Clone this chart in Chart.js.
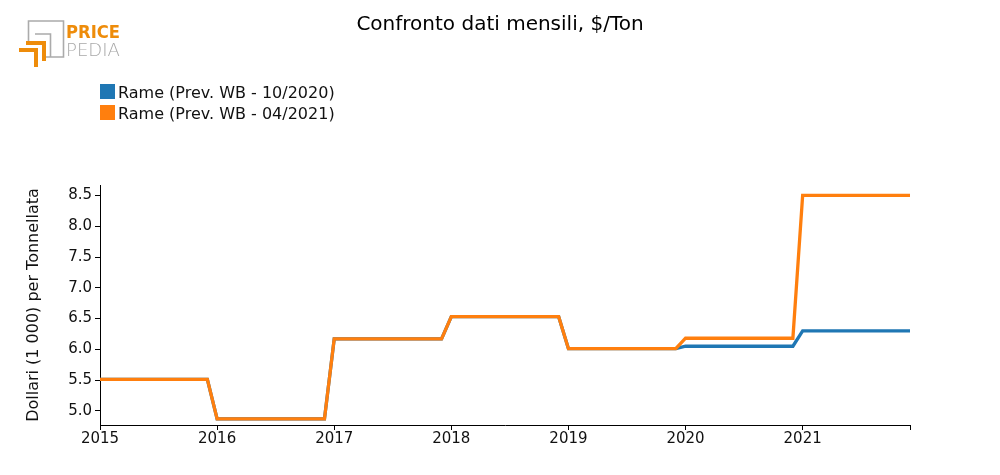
<!DOCTYPE html>
<html>
<head>
<meta charset="utf-8">
<script src="https://cdn.jsdelivr.net/npm/chart.js@4.4.0/dist/chart.umd.min.js"></script>
<style>
  body { margin: 0; background: #fff; font-family: "DejaVu Sans", sans-serif; }
  #wrap { position: relative; width: 1000px; height: 475px; }
  #chart { position: absolute; left: 0; top: 0; }
  .title { position: absolute; left: 0; width: 1000px; top: 11px; text-align: center; font-size: 20px; color: #000; }
  .legend { position: absolute; left: 100px; top: 84px; font-size: 16px; color: #111; }
  .legend div { height: 21px; line-height: 18px; }
  .legend span { display: inline-block; width: 15px; height: 15px; vertical-align: -1px; margin-right: 3px; }
  .logo { position: absolute; left: 0; top: 0; }
</style>
</head>
<body>
<div id="wrap">
  <canvas id="chart" width="1000" height="475"></canvas>
  <div class="title">Confronto dati mensili, $/Ton</div>
  <svg class="logo" width="130" height="70" viewBox="0 0 130 70">
    <path d="M28.5 42 V21 H63.5 V57 H46" fill="none" stroke="#ababab" stroke-width="1.6"/>
    <path d="M35 34 H50.5 V57" fill="none" stroke="#ababab" stroke-width="1.6"/>
    <path d="M26 43 H44 V61" fill="none" stroke="#ee8c0a" stroke-width="4"/>
    <path d="M19 50 H36 V67" fill="none" stroke="#ee8c0a" stroke-width="4"/>
    <text x="66" y="38" font-family="DejaVu Sans" font-weight="bold" font-size="18" fill="#ee8c0a" textLength="54" lengthAdjust="spacingAndGlyphs">PRICE</text>
    <text x="66" y="55.5" font-family="DejaVu Sans" font-weight="200" font-size="18" fill="#a8a8a8" textLength="54" lengthAdjust="spacingAndGlyphs">PEDIA</text>
  </svg>
  <div class="legend">
    <div><span style="background:#1f77b4"></span>Rame (Prev. WB - 10/2020)</div>
    <div><span style="background:#ff7f0e"></span>Rame (Prev. WB - 04/2021)</div>
  </div>
</div>
<script>
const years = ['2015', '2016', '2017', '2018', '2019', '2020', '2021'];
// yearly levels (thousand $/ton), each repeated for 12 months
const rameOct2020 = [5.51, 4.87, 6.17, 6.53, 6.01, 6.05, 6.30];
const rameApr2021 = [5.51, 4.87, 6.17, 6.53, 6.01, 6.18, 8.50];
const yTicks = [5.0, 5.5, 6.0, 6.5, 7.0, 7.5, 8.0, 8.5];

const months = [];
const serieOct = [];
const serieApr = [];
years.forEach((y, i) => {
    for (let m = 1; m <= 12; m++) {
        months.push(y + '-' + String(m).padStart(2, '0'));
        serieOct.push(rameOct2020[i]);
        serieApr.push(rameApr2021[i]);
    }
});

const tickFont = { family: 'DejaVu Sans', size: 15 };

new Chart(document.getElementById('chart').getContext('2d'), {
    type: 'line',
    data: {
        labels: months,
        datasets: [
            // order: higher number is drawn first, so orange ends up on top
            { label: 'Rame (Prev. WB - 10/2020)', data: serieOct, borderColor: '#1f77b4', borderWidth: 3.3, pointRadius: 0, tension: 0, order: 2 },
            { label: 'Rame (Prev. WB - 04/2021)', data: serieApr, borderColor: '#ff7f0e', borderWidth: 3.3, pointRadius: 0, tension: 0, order: 1 }
        ]
    },
    options: {
        responsive: false,
        animation: false,
        layout: { padding: { top: 185, right: 90, bottom: 0, left: 24 } },
        plugins: { legend: { display: false }, title: { display: false }, tooltip: { enabled: false } },
        scales: {
            x: {
                type: 'category',
                offset: false,
                afterFit: scale => { scale.height = 50; },
                border: { display: true, color: '#000', width: 1 },
                grid: { drawOnChartArea: false, drawTicks: true, tickLength: 5, color: '#000' },
                ticks: {
                    autoSkip: false, maxRotation: 0, color: '#111', font: tickFont, padding: 0,
                    callback: function (val, index) {
                        if (index % 12 === 0) return months[index].slice(0, 4);
                        if (index === months.length - 1) return '';
                        return null;
                    }
                }
            },
            y: {
                min: 4.77,
                max: 8.67,
                afterFit: scale => { scale.width = 76; },
                afterBuildTicks: scale => { scale.ticks = yTicks.map(v => ({ value: v })); },
                border: { display: true, color: '#000', width: 1 },
                grid: { drawOnChartArea: false, drawTicks: true, tickLength: 5, color: '#000' },
                ticks: { color: '#111', font: tickFont, padding: 3, callback: v => v.toFixed(1) },
                title: { display: true, text: 'Dollari (1 000) per Tonnellata', color: '#111', font: { family: 'DejaVu Sans', size: 16 }, padding: { top: 0, bottom: 0 } }
            }
        }
    }
});
</script>
</body>
</html>
